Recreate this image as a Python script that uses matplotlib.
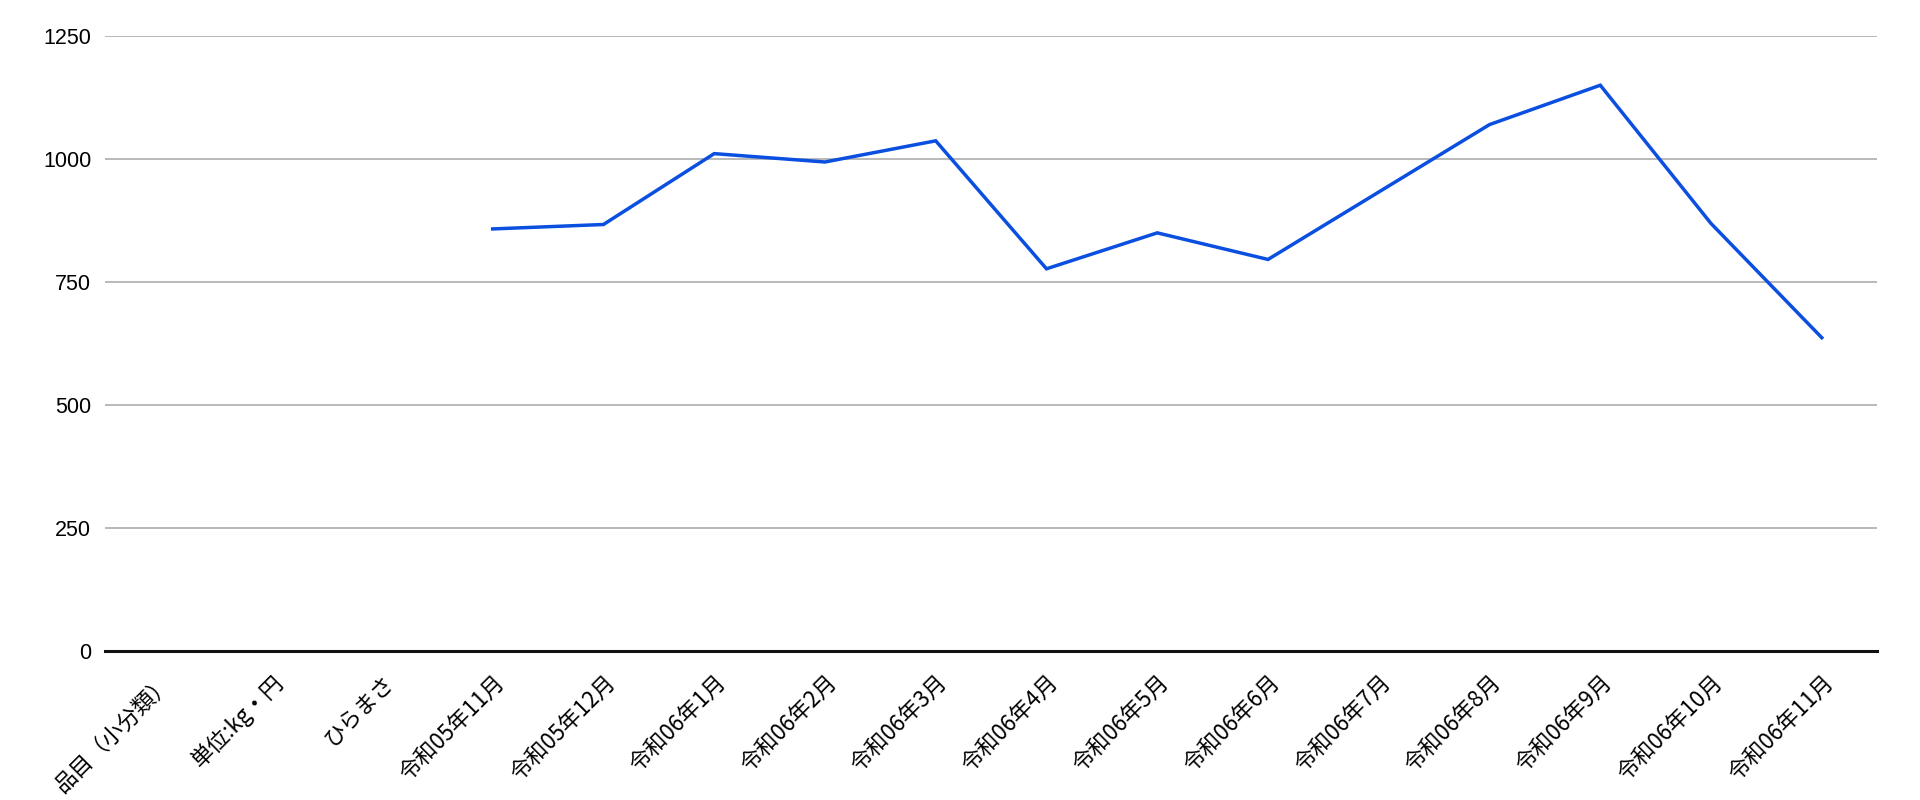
import matplotlib
matplotlib.use("Agg")
import matplotlib.pyplot as plt
import matplotlib.transforms as mtransforms
import numpy as np

categories = ["品目（小分類）", "単位:kg・円", "ひらまさ",
              "令和05年11月", "令和05年12月", "令和06年1月", "令和06年2月",
              "令和06年3月", "令和06年4月", "令和06年5月", "令和06年6月",
              "令和06年7月", "令和06年8月", "令和06年9月", "令和06年10月",
              "令和06年11月"]
values = [np.nan, np.nan, np.nan, 858, 867, 1011, 994, 1037, 777, 850,
          796, 933, 1070, 1150, 869, 637]
y_ticks = [0, 250, 500, 750, 1000, 1250]

plt.rcParams['font.family'] = ['Liberation Sans', 'Noto Sans CJK JP', 'DejaVu Sans']

fig = plt.figure(figsize=(19.2, 8), dpi=100)
ax = fig.add_axes([0.0547, 0.186, 0.923, 0.769])

x = np.arange(len(categories))
ax.plot(x, values, color='#0a4fe0', lw=2.5, solid_joinstyle='miter', zorder=3)

ax.set_xlim(-0.5, len(categories) - 0.5)
ax.set_ylim(0, 1250)
ax.set_yticks(y_ticks)
ax.set_yticklabels([str(v) for v in y_ticks], fontsize=15.5)
ax.set_xticks(x)
ax.set_xticklabels(categories, rotation=45, ha='right', va='top',
                   rotation_mode='anchor', fontsize=16,
                   family=['Noto Sans CJK JP', 'DejaVu Sans'])
offset = mtransforms.ScaledTranslation(7 / 100, 2 / 100, fig.dpi_scale_trans)
for lbl in ax.get_xticklabels():
    lbl.set_transform(lbl.get_transform() + offset)

ax.grid(axis='y', color='#b3b3b3', lw=1.3, zorder=0)
ax.tick_params(axis='both', length=0)
ax.tick_params(axis='y', pad=10)
ax.tick_params(axis='x', pad=14)
for s in ['top', 'right', 'left']:
    ax.spines[s].set_visible(False)
ax.spines['bottom'].set_color('#111111')
ax.spines['bottom'].set_linewidth(2.2)
ax.spines['bottom'].set_zorder(4)

fig.savefig('out.png', dpi=100, facecolor='white')
